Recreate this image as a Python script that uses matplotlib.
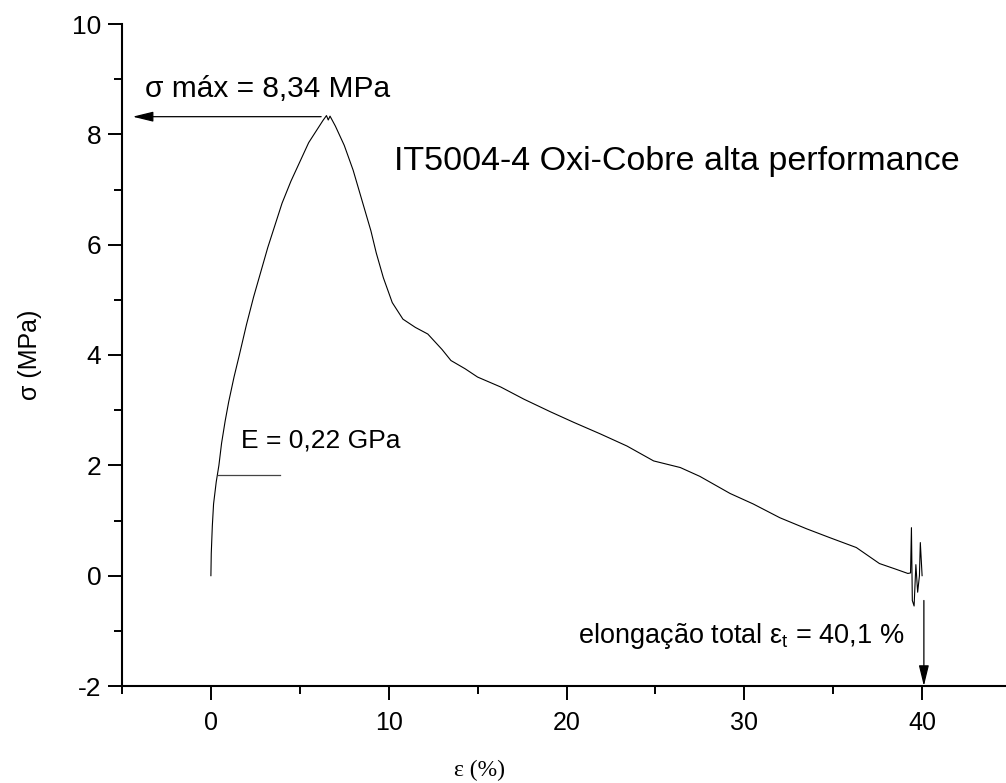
import numpy as np
import matplotlib
matplotlib.use("Agg")
from matplotlib import pyplot as plt

# strain (%) and stress (MPa)
eps = [0.0, 0.02, 0.08, 0.15, 0.3, 0.45, 0.6, 0.8, 1.0, 1.3, 1.6, 2.0, 2.4, 2.8,
       3.2, 3.6, 4.0, 4.5, 5.0, 5.5, 6.0, 6.3, 6.5, 6.6, 6.7, 7.0, 7.5, 8.0, 8.5,
       9.0, 9.3, 9.7, 10.2, 10.8, 11.5, 12.2, 13.0, 13.5, 14.3, 15.0, 16.3, 17.6,
       19.1, 20.4, 21.9, 23.4, 24.9, 26.4, 27.5, 29.2, 30.5, 32.0, 33.5, 34.8,
       36.3, 37.6, 38.5, 39.2, 39.35, 39.4, 39.45, 39.55, 39.65, 39.75, 39.85,
       39.9, 40.0]
sigma = [0.0, 0.4, 0.9, 1.3, 1.7, 2.0, 2.4, 2.8, 3.15, 3.6, 4.0, 4.55, 5.05, 5.5,
         5.95, 6.35, 6.75, 7.15, 7.5, 7.85, 8.1, 8.25, 8.34, 8.26, 8.33, 8.15,
         7.8, 7.35, 6.8, 6.25, 5.85, 5.4, 4.95, 4.65, 4.5, 4.38, 4.1, 3.9, 3.75,
         3.6, 3.42, 3.2, 2.97, 2.78, 2.57, 2.35, 2.08, 1.96, 1.8, 1.49, 1.3, 1.05,
         0.85, 0.69, 0.51, 0.22, 0.12, 0.04, 0.05, 0.87, -0.45, -0.55, 0.2, -0.3,
         0.0, 0.6, 0.0]

sigma_max = 8.34
eps_total = 40.1
E_level = 1.82

W, H = 1006, 783
fig = plt.figure(figsize=(W / 100, H / 100), dpi=100)
ax = fig.add_axes([122 / W, (H - 686) / H, (1011 - 122) / W, (686 - 24) / H])

ax.plot(eps, sigma, color="black", lw=0.8)

ax.set_xlim(-5, 45)
ax.set_ylim(-2, 10)
ax.set_xticks([0, 10, 20, 30, 40])
ax.set_xticks([-5, 5, 15, 25, 35, 45], minor=True)
ax.set_yticks([-2, 0, 2, 4, 6, 8, 10])
ax.set_yticks([-1, 1, 3, 5, 7, 9], minor=True)
ax.set_yticklabels(["-2", "0", "2", "4", "6", "8", "10"])

for s in ["top", "right"]:
    ax.spines[s].set_visible(False)
for s in ["left", "bottom"]:
    ax.spines[s].set_linewidth(1.5)

sans = ["Liberation Sans", "DejaVu Sans"]

ax.tick_params(which="major", length=10, width=1.4, direction="out")
ax.tick_params(which="minor", length=5.5, width=1.4, direction="out")
ax.tick_params(axis="y", labelsize=19, pad=5)
ax.tick_params(axis="x", labelsize=18, pad=8)
for lab in ax.get_yticklabels() + ax.get_xticklabels():
    lab.set_family(sans)

ax.set_ylabel("σ (MPa)", fontsize=18, family=sans)
ax.yaxis.set_label_coords(-(122 - 42) / (1011 - 122), (686 - 355) / (686 - 24))
ax.set_xlabel("ε (%)", fontsize=17, family=["Liberation Serif", "DejaVu Serif"], va="center")
ax.xaxis.set_label_coords((480 - 122) / (1011 - 122), -(770 - 686) / (686 - 24))

# sigma max arrow
ax.annotate("", xy=(-4.4, 8.32), xytext=(6.2, 8.32),
            arrowprops=dict(arrowstyle="-|>,head_length=0.9,head_width=0.22",
                            color="black", lw=0.9, mutation_scale=14,
                            shrinkA=0, shrinkB=0))
ax.text(-3.7, 8.56, "σ máx = 8,34 MPa", fontsize=21.5, family=sans, va="bottom")

ax.text(10.3, 7.5, "IT5004-4 Oxi-Cobre alta performance", fontsize=24.5,
        family=sans, va="center")

# modulus line
ax.plot([0.4, 3.9], [E_level, E_level], color="#444444", lw=0.9)
ax.text(1.7, 2.45, "E = 0,22 GPa", fontsize=19, family=sans, va="center")

# total elongation arrow
ax.annotate("", xy=(eps_total, -2.0), xytext=(eps_total, -0.45),
            arrowprops=dict(arrowstyle="-|>,head_length=0.9,head_width=0.22",
                            color="black", lw=0.9, mutation_scale=14,
                            shrinkA=0, shrinkB=0))
ax.text(39.0, -1.1, "elongação total ε$_\\mathregular{t}$ = 40,1 %", fontsize=19.5,
        family=sans, va="center", ha="right")

fig.savefig("out.png", dpi=100)
